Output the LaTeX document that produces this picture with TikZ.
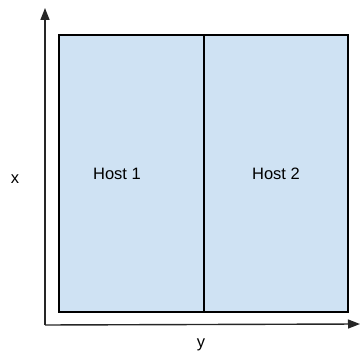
\documentclass[tikz,border=0pt]{standalone}
\usepackage{fontspec}
\setmainfont{Liberation Sans}
\usetikzlibrary{arrows.meta}
\definecolor{hostfill}{HTML}{CFE2F3}
\tikzset{
  hostbox/.style={draw=black, fill=hostfill, line width=1.6pt, inner sep=0pt},
  lbl/.style={inner sep=0pt, font=\fontsize{16.5}{19}\selectfont},
  axis/.style={line width=1.4pt, draw=black!85, -{Triangle[length=12pt,width=9pt]}}
}
\begin{document}
\begin{tikzpicture}[x=1pt,y=-1pt]
\useasboundingbox (0,0) rectangle (360,356);
\node[hostbox, minimum width=145pt, minimum height=277pt] (box1) at (131.5,173.5) {};
\node[hostbox, minimum width=144pt, minimum height=277pt] (box2) at (276,173.5) {};
\node[lbl] (h1) at (117,173.7) {Host 1};
\node[lbl] (h2) at (276,173.7) {Host 2};
\coordinate (o) at (45,325);
\coordinate (ytip) at (45,8);
\coordinate (xtip) at (360,324);
\draw[axis] (o) -- (ytip);
\draw[axis] (o) -- (xtip);
\node[lbl] (xl) at (15,179.5) {x};
\node[lbl, anchor=base] (yl) at (201,347.6) {y};
\end{tikzpicture}
\end{document}
